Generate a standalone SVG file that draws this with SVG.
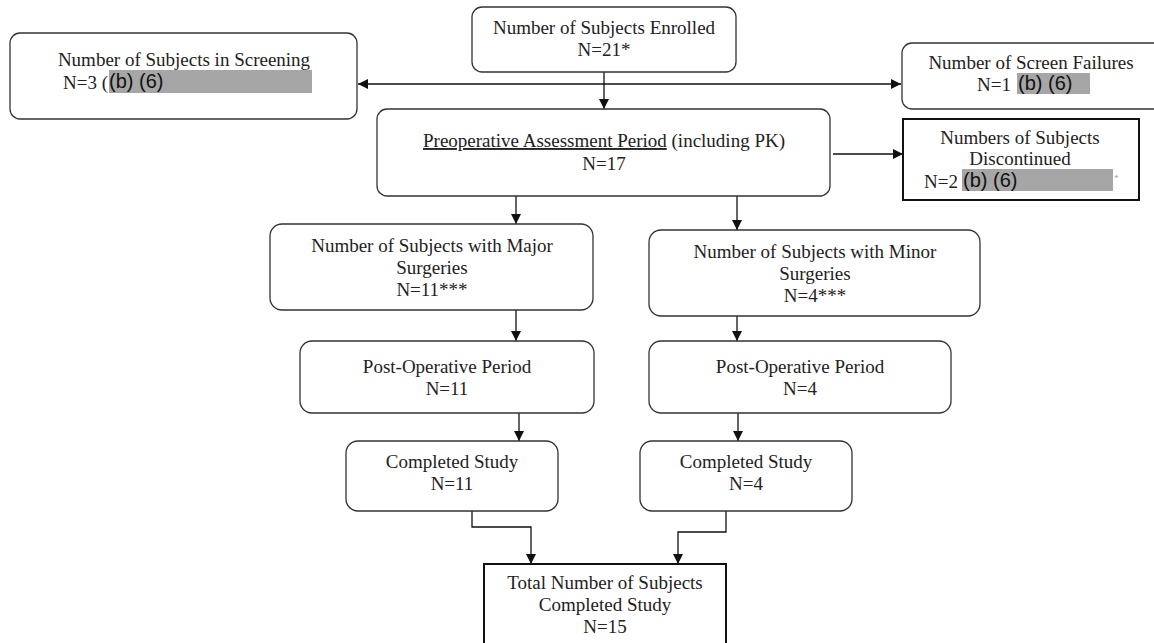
<svg xmlns="http://www.w3.org/2000/svg" width="1154" height="643" viewBox="0 0 1154 643">
<style>
.b{fill:#fff;stroke:#333;stroke-width:1.3}
.s{fill:#fff;stroke:#111;stroke-width:2}
.t{font-family:"Liberation Serif",serif;font-size:19px;fill:#222;text-anchor:middle}
.l{text-anchor:start}
.r{fill:#a6a6a6}
.rt{font-family:"Liberation Sans",sans-serif;font-size:20px;fill:#111}
.c{fill:none;stroke:#111;stroke-width:1.3}
</style>
<defs>
<marker id="a" viewBox="0 0 10 10" refX="10" refY="5" markerWidth="10" markerHeight="10" markerUnits="userSpaceOnUse" orient="auto-start-reverse"><path d="M0,0L10,5L0,10z" fill="#111"/></marker>
</defs>
<rect width="1154" height="643" fill="#fff"/>
<g id="connectors">
<path class="c" d="M358,84H901" marker-start="url(#a)" marker-end="url(#a)"/>
<path class="c" d="M604,72V109" marker-end="url(#a)"/>
<path class="c" d="M833,154H903" marker-end="url(#a)"/>
<path class="c" d="M516,196V224" marker-end="url(#a)"/>
<path class="c" d="M737,196V230" marker-end="url(#a)"/>
<path class="c" d="M516,310V341" marker-end="url(#a)"/>
<path class="c" d="M737,316V341" marker-end="url(#a)"/>
<path class="c" d="M519,413V441" marker-end="url(#a)"/>
<path class="c" d="M738,413V441" marker-end="url(#a)"/>
<path class="c" d="M472,511V527H531V564" marker-end="url(#a)"/>
<path class="c" d="M726,511V532H678V564" marker-end="url(#a)"/>
</g>
<g id="screening">
<rect class="b" x="10" y="33" width="347" height="86" rx="10"/>
<text class="t" x="184" y="66">Number of Subjects in Screening</text>
<text class="t l" x="63" y="89">N=3 (</text>
<rect class="r" x="109" y="70" width="203" height="23"/>
<text class="rt" x="109" y="88">(b) (6)</text>
</g>
<g id="enrolled">
<rect class="b" x="472" y="7" width="264" height="65" rx="10"/>
<text class="t" x="604" y="34">Number of Subjects Enrolled</text>
<text class="t" x="604" y="56">N=21*</text>
</g>
<g id="failures">
<rect class="b" x="902" y="43" width="262" height="66" rx="10"/>
<text class="t" x="1031" y="69">Number of Screen Failures</text>
<text class="t l" x="977" y="91">N=1</text>
<rect class="r" x="1017" y="73" width="73" height="21"/>
<text class="rt" x="1018" y="90">(b) (6)</text>
</g>
<g id="preop">
<rect class="b" x="377" y="109" width="453" height="87" rx="10"/>
<text class="t" x="604" y="147"><tspan text-decoration="underline">Preoperative Assessment Period</tspan> (including PK)</text>
<text class="t" x="604" y="170">N=17</text>
</g>
<g id="discontinued">
<rect class="s" x="903" y="119" width="236" height="81"/>
<text class="t" x="1020" y="144">Numbers of Subjects</text>
<text class="t" x="1020" y="165">Discontinued</text>
<text class="t l" x="924" y="188">N=2</text>
<rect class="r" x="962" y="169" width="151" height="22"/>
<text class="rt" x="963" y="187">(b) (6)</text>
<text x="1114" y="181" font-family="Liberation Serif,serif" font-size="9" fill="#999">*</text>
</g>
<g id="major">
<rect class="b" x="270" y="224" width="323" height="86" rx="12"/>
<text class="t" x="432" y="252">Number of Subjects with Major</text>
<text class="t" x="432" y="274">Surgeries</text>
<text class="t" x="432" y="296">N=11***</text>
</g>
<g id="minor">
<rect class="b" x="649" y="230" width="331" height="86" rx="12"/>
<text class="t" x="815" y="258">Number of Subjects with Minor</text>
<text class="t" x="815" y="280">Surgeries</text>
<text class="t" x="815" y="302">N=4***</text>
</g>
<g id="postop-major">
<rect class="b" x="300" y="341" width="294" height="72" rx="12"/>
<text class="t" x="447" y="373">Post-Operative Period</text>
<text class="t" x="447" y="395">N=11</text>
</g>
<g id="postop-minor">
<rect class="b" x="649" y="341" width="302" height="72" rx="12"/>
<text class="t" x="800" y="373">Post-Operative Period</text>
<text class="t" x="800" y="395">N=4</text>
</g>
<g id="completed-major">
<rect class="b" x="346" y="441" width="212" height="70" rx="12"/>
<text class="t" x="452" y="468">Completed Study</text>
<text class="t" x="452" y="490">N=11</text>
</g>
<g id="completed-minor">
<rect class="b" x="640" y="441" width="212" height="70" rx="12"/>
<text class="t" x="746" y="468">Completed Study</text>
<text class="t" x="746" y="490">N=4</text>
</g>
<g id="total">
<rect class="s" x="484" y="564" width="242" height="90"/>
<text class="t" x="605" y="589">Total Number of Subjects</text>
<text class="t" x="605" y="611">Completed Study</text>
<text class="t" x="605" y="633">N=15</text>
</g>
</svg>
